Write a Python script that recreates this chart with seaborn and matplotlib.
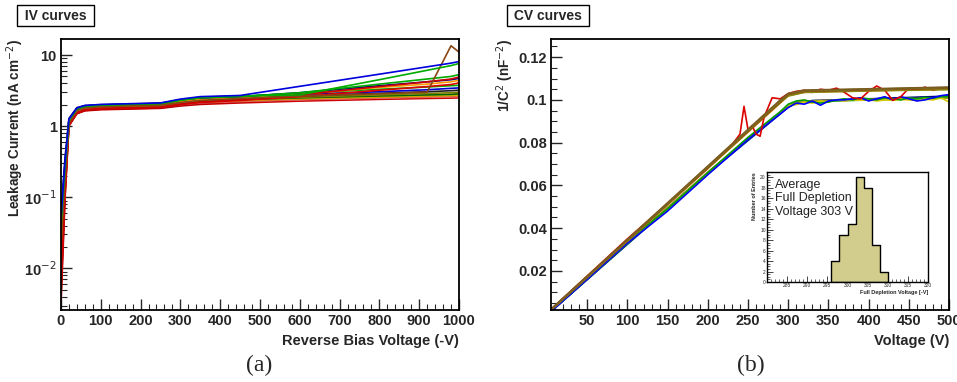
import numpy as np
import pandas as pd
import matplotlib
matplotlib.use("Agg")
import matplotlib.pyplot as plt
import matplotlib.ticker as mticker
import seaborn as sns

sns.set_theme(style="white")
plt.rcParams['font.family'] = ['Liberation Sans', 'DejaVu Sans']

# ---------------- IV data (nA cm^-2 vs -V) ----------------
iv_voltage = [0, 10, 20, 40, 60, 100, 250, 300, 350, 450, 600, 800, 920, 980, 1000]
iv_blue_hi   = [0.050, 0.30, 1.25, 1.80, 1.95, 2.02, 2.12, 2.40, 2.60, 2.70, 3.63, 5.38, 6.83, 7.69, 8.10]
iv_green_hi  = [0.040, 0.25, 1.20, 1.75, 1.90, 1.98, 2.08, 2.35, 2.55, 2.65, 2.75, 4.50, 6.10, 7.10, 7.60]
iv_brown     = [0.020, 0.18, 1.10, 1.65, 1.80, 1.88, 1.98, 2.15, 2.30, 2.45, 2.65, 2.85, 3.00, 13.5, 11.0]
iv_green2    = [0.030, 0.22, 1.15, 1.70, 1.85, 1.92, 2.02, 2.30, 2.50, 2.60, 2.95, 3.90, 4.60, 5.00, 5.30]
iv_red1      = [0.006, 0.12, 1.05, 1.55, 1.70, 1.78, 1.85, 2.05, 2.20, 2.35, 2.75, 3.60, 4.20, 4.60, 4.90]
iv_navy      = [0.060, 0.35, 1.28, 1.82, 1.95, 2.00, 2.10, 2.35, 2.50, 2.60, 2.95, 3.70, 4.20, 4.50, 4.70]
iv_orange    = [0.020, 0.20, 1.12, 1.65, 1.82, 1.90, 2.00, 2.22, 2.38, 2.50, 2.80, 3.50, 3.90, 4.20, 4.40]
iv_red2      = [0.004, 0.10, 1.02, 1.52, 1.68, 1.75, 1.83, 2.00, 2.15, 2.30, 2.60, 3.20, 3.60, 3.85, 4.05]
iv_green3    = [0.035, 0.24, 1.18, 1.72, 1.88, 1.95, 2.05, 2.32, 2.52, 2.62, 2.90, 3.30, 3.55, 3.70, 3.75]
iv_blue2     = [0.045, 0.28, 1.22, 1.78, 1.92, 1.98, 2.08, 2.30, 2.45, 2.55, 2.80, 3.05, 3.25, 3.40, 3.45]
iv_black     = [0.030, 0.22, 1.15, 1.70, 1.85, 1.92, 2.00, 2.20, 2.35, 2.45, 2.65, 2.90, 3.05, 3.15, 3.20]
iv_olive     = [0.015, 0.16, 1.08, 1.60, 1.76, 1.84, 1.93, 2.10, 2.25, 2.38, 2.55, 2.75, 2.88, 2.95, 3.00]
iv_darkred   = [0.003, 0.09, 1.00, 1.50, 1.66, 1.73, 1.80, 1.95, 2.08, 2.20, 2.40, 2.60, 2.72, 2.78, 2.82]
iv_darkgreen = [0.025, 0.20, 1.12, 1.66, 1.80, 1.88, 1.96, 2.12, 2.26, 2.36, 2.50, 2.66, 2.75, 2.80, 2.85]
iv_orange2   = [0.012, 0.15, 1.06, 1.58, 1.74, 1.82, 1.90, 2.05, 2.18, 2.28, 2.42, 2.56, 2.64, 2.68, 2.70]
iv_red3      = [0.005, 0.11, 1.03, 1.50, 1.64, 1.70, 1.78, 1.92, 2.02, 2.12, 2.25, 2.38, 2.45, 2.48, 2.50]
iv_pink      = [0.010, 0.14, 1.05, 1.55, 1.70, 1.78, 1.86, 2.00, 2.12, 2.22, 2.35, 2.48, 2.55, 2.58, 2.60]
iv_yellow    = [0.020, 0.18, 1.10, 1.62, 1.78, 1.86, 1.95, 2.10, 2.22, 2.32, 2.46, 2.60, 2.68, 2.72, 2.75]

iv_series = {
    "red3": (iv_red3, "#cc0000"), "darkred": (iv_darkred, "#990000"),
    "pink": (iv_pink, "#e06060"), "orange2": (iv_orange2, "#e08000"),
    "yellow": (iv_yellow, "#c8b400"), "darkgreen": (iv_darkgreen, "#006400"),
    "olive": (iv_olive, "#808000"), "black": (iv_black, "#202020"),
    "blue2": (iv_blue2, "#0000cc"), "green3": (iv_green3, "#00b000"),
    "red2": (iv_red2, "#dd0000"), "orange": (iv_orange, "#ff9900"),
    "navy": (iv_navy, "#000080"), "red1": (iv_red1, "#cc0000"),
    "green2": (iv_green2, "#00aa00"), "brown": (iv_brown, "#8b4513"),
    "green_hi": (iv_green_hi, "#00aa00"), "blue_hi": (iv_blue_hi, "#0000dd"),
}

# ---------------- CV data (1/C^2 in nF^-2 vs V) ----------------
cv_v_up = [5, 290, 300, 320, 400, 500]
cv_olive1 = [0.0020, 0.0995, 0.1028, 0.1043, 0.1050, 0.1058]
cv_brown1 = [0.0018, 0.0990, 0.1025, 0.1040, 0.1047, 0.1055]
cv_dgrn1  = [0.0019, 0.0992, 0.1022, 0.1038, 0.1045, 0.1052]
cv_orng1  = [0.0017, 0.0985, 0.1020, 0.1036, 0.1043, 0.1050]
cv_olive2 = [0.0016, 0.0988, 0.1018, 0.1035, 0.1042, 0.1048]
cv_brown2 = [0.0021, 0.1000, 0.1030, 0.1046, 0.1052, 0.1060]

cv_v_lo = [5, 150, 200, 300, 310, 330, 400, 500]
cv_blue_lo  = [0.0010, 0.0490, 0.0655, 0.0965, 0.0985, 0.0995, 0.1002, 0.1015]
cv_navy_lo  = [0.0012, 0.0495, 0.0660, 0.0970, 0.0988, 0.0997, 0.1005, 0.1018]
cv_green_lo = [0.0011, 0.0492, 0.0658, 0.0968, 0.0984, 0.0992, 0.1000, 0.1010]
cv_olive_lo = [0.0013, 0.0497, 0.0662, 0.0972, 0.0990, 0.0996, 0.1003, 0.1008]

cv_v_red = [5, 100, 200, 230, 240, 245, 250, 255, 260, 265, 270, 280, 290, 300, 310,
            320, 330, 340, 350, 360, 370, 380, 390, 400, 410, 420, 430, 440, 450,
            460, 470, 480, 490, 500]
cv_red = [0.0020, 0.0350, 0.0680, 0.0790, 0.0840, 0.0970, 0.0860, 0.0880, 0.0840,
          0.0830, 0.0920, 0.1010, 0.1005, 0.1030, 0.1040, 0.1045, 0.1035, 0.1050,
          0.1045, 0.1055, 0.1035, 0.1010, 0.1005, 0.1040, 0.1065, 0.1045, 0.0998,
          0.1015, 0.1055, 0.1045, 0.1060, 0.1045, 0.1055, 0.1050]

cv_v_noisy = [5, 100, 150, 200, 250, 290, 300, 310, 320, 330, 340, 350, 360, 370, 380,
              390, 400, 410, 420, 430, 440, 450, 460, 470, 480, 490, 500]
cv_blue_noisy = [0.0010, 0.0330, 0.0480, 0.0650, 0.0815, 0.0935, 0.0965, 0.0985, 0.0980,
                 0.0995, 0.0975, 0.0995, 0.1000, 0.1000, 0.1005, 0.1010, 0.0995, 0.1005,
                 0.1015, 0.1000, 0.1015, 0.1005, 0.0995, 0.1000, 0.1010, 0.1020, 0.1025]
cv_yellow_noisy = [0.0012, 0.0335, 0.0485, 0.0655, 0.0820, 0.0940, 0.0975, 0.0978, 0.0990,
                   0.0985, 0.0995, 0.0990, 0.1000, 0.0995, 0.1000, 0.0998, 0.1002, 0.0995,
                   0.1000, 0.0998, 0.1002, 0.1000, 0.0998, 0.1003, 0.1000, 0.1010, 0.0990]
cv_green_noisy = [0.0011, 0.0340, 0.0490, 0.0660, 0.0825, 0.0945, 0.0980, 0.0995, 0.1000,
                  0.0990, 0.0985, 0.0990, 0.1000, 0.1005, 0.1000, 0.1010, 0.1005, 0.1000,
                  0.1010, 0.1005, 0.1000, 0.1010, 0.1005, 0.1012, 0.1008, 0.1015, 0.1018]

# inset histogram
hist_edges = [296, 298, 300, 302, 304, 306, 308, 310]
hist_counts = [4, 9, 11, 20, 18, 7, 2]

# ---------------- figure ----------------
fig = plt.figure(figsize=(9.57, 3.82), dpi=100)
ax1 = fig.add_axes([0.0637, 0.1885, 0.4159, 0.7094])
ax2 = fig.add_axes([0.5758, 0.1885, 0.4159, 0.7094])
axi = fig.add_axes([0.8015, 0.2618, 0.1682, 0.2880])

# IV curves
rows = []
for name, (vals, col) in iv_series.items():
    for v, y in zip(iv_voltage, vals):
        rows.append((name, v, y))
df_iv = pd.DataFrame(rows, columns=["curve", "V", "I"])
pal_iv = {k: c for k, (vals, c) in iv_series.items()}
sns.lineplot(data=df_iv, x="V", y="I", hue="curve", palette=pal_iv, estimator=None,
             sort=False, linewidth=1.2, legend=False, ax=ax1)
ax1.set_yscale("log")
ax1.set_xlim(0, 1000)
ax1.set_ylim(0.0026, 16.8)
ax1.xaxis.set_major_locator(mticker.MultipleLocator(100))
ax1.xaxis.set_minor_locator(mticker.MultipleLocator(20))
ax1.yaxis.set_major_locator(mticker.FixedLocator([0.01, 0.1, 1, 10]))
ax1.yaxis.set_minor_locator(mticker.LogLocator(base=10, subs=np.arange(2, 10)))
ax1.yaxis.set_minor_formatter(mticker.NullFormatter())
ax1.set_yticklabels(["10$^{-2}$", "10$^{-1}$", "1", "10"])
ax1.set_xlabel("Reverse Bias Voltage (-V)", fontweight="bold", fontsize=10.5, loc="right")
ax1.set_ylabel("Leakage Current (nA cm$^{-2}$)", fontweight="bold", fontsize=9.8, loc="top")
ax1.yaxis.set_label_coords(-0.088, 1.0)

# CV curves
cv_groups = [
    (cv_v_lo, cv_blue_lo, "#0000cc"), (cv_v_lo, cv_navy_lo, "#000080"),
    (cv_v_lo, cv_green_lo, "#009900"), (cv_v_lo, cv_olive_lo, "#9a9a20"),
    (cv_v_noisy, cv_yellow_noisy, "#d8c800"), (cv_v_noisy, cv_green_noisy, "#00a000"),
    (cv_v_noisy, cv_blue_noisy, "#0000ff"),
    (cv_v_up, cv_dgrn1, "#006400"), (cv_v_up, cv_orng1, "#d08000"),
    (cv_v_red, cv_red, "#dd0000"),
    (cv_v_up, cv_olive2, "#8a8a10"), (cv_v_up, cv_brown1, "#8b4513"),
    (cv_v_up, cv_olive1, "#7a7a20"), (cv_v_up, cv_brown2, "#7a5a20"),
]
rows = []
pal_cv = {}
for i, (vv, yy, col) in enumerate(cv_groups):
    for v, y in zip(vv, yy):
        rows.append((f"c{i}", v, y))
    pal_cv[f"c{i}"] = col
df_cv = pd.DataFrame(rows, columns=["curve", "V", "C"])
sns.lineplot(data=df_cv, x="V", y="C", hue="curve", palette=pal_cv, estimator=None,
             sort=False, linewidth=1.2, legend=False, ax=ax2)
ax2.set_xlim(5, 500)
ax2.set_ylim(0.0017, 0.1285)
ax2.xaxis.set_major_locator(mticker.FixedLocator([50, 100, 150, 200, 250, 300, 350, 400, 450, 500]))
ax2.xaxis.set_minor_locator(mticker.MultipleLocator(10))
ax2.yaxis.set_major_locator(mticker.FixedLocator([0.02, 0.04, 0.06, 0.08, 0.10, 0.12]))
ax2.yaxis.set_minor_locator(mticker.MultipleLocator(0.005))
ax2.set_yticklabels(["0.02", "0.04", "0.06", "0.08", "0.1", "0.12"])
ax2.set_xlabel("Voltage (V)", fontweight="bold", fontsize=10.5, loc="right")
ax2.set_ylabel("1/C$^{2}$ (nF$^{-2}$)", fontweight="bold", fontsize=9.8, loc="top")
ax2.yaxis.set_label_coords(-0.088, 1.0)

for ax in (ax1, ax2):
    ax.tick_params(which="both", direction="in", left=True, bottom=True, top=False, right=False)
    ax.tick_params(which="major", length=8, width=1.0, labelsize=10.5, pad=3)
    ax.tick_params(which="minor", length=4, width=0.8)
    for lab in ax.get_xticklabels() + ax.get_yticklabels():
        lab.set_fontweight("bold")
    for s in ax.spines.values():
        s.set_color("black")
        s.set_linewidth(1.3)
    ax.set_facecolor("white")

# inset histogram
centers = [(a + b) / 2 for a, b in zip(hist_edges[:-1], hist_edges[1:])]
sns.histplot(x=centers, weights=hist_counts, bins=hist_edges, element="step", fill=True,
             color="#d2cd8c", alpha=1.0, edgecolor="black", linewidth=1.0, ax=axi)
axi.set_xlim(280, 320)
axi.set_ylim(0, 21)
axi.xaxis.set_major_locator(mticker.MultipleLocator(5))
axi.xaxis.set_minor_locator(mticker.MultipleLocator(1))
axi.yaxis.set_major_locator(mticker.MultipleLocator(2))
axi.yaxis.set_minor_locator(mticker.MultipleLocator(0.5))
axi.tick_params(which="both", direction="in", left=True, bottom=True, top=False, right=False,
                labelsize=3.5, pad=1)
axi.tick_params(which="major", length=4, width=0.6)
axi.tick_params(which="minor", length=2, width=0.5)
axi.set_xticks([285, 290, 295, 300, 305, 310, 315, 320])
axi.set_xticklabels(["285", "290", "295", "300", "305", "310", "315", "320"])
axi.set_xlabel("Full Depletion Voltage [-V]", fontsize=4, fontweight="bold", loc="right", labelpad=1)
axi.set_ylabel("Number of Entries", fontsize=4, fontweight="bold", loc="top", labelpad=2)
for s in axi.spines.values():
    s.set_color("black")
    s.set_linewidth(1.0)
axi.text(0.05, 0.94, "Average\nFull Depletion\nVoltage 303 V", transform=axi.transAxes,
         ha="left", va="top", fontsize=9, linespacing=1.2, color="#222222")

# title boxes
box = dict(boxstyle="square,pad=0.25", fc="white", ec="black", lw=1.0)
fig.text(0.0215, 0.959, " IV curves ", fontsize=10, fontweight="bold", ha="left", va="center", bbox=box)
fig.text(0.5330, 0.959, " CV curves ", fontsize=10, fontweight="bold", ha="left", va="center", bbox=box)

# sub-figure labels
fig.text(0.271, 0.043, "(a)", fontsize=17, ha="center", va="center", family=["Liberation Serif", "DejaVu Serif"])
fig.text(0.785, 0.043, "(b)", fontsize=17, ha="center", va="center", family=["Liberation Serif", "DejaVu Serif"])

fig.savefig("out.png", dpi=100, facecolor="white")
